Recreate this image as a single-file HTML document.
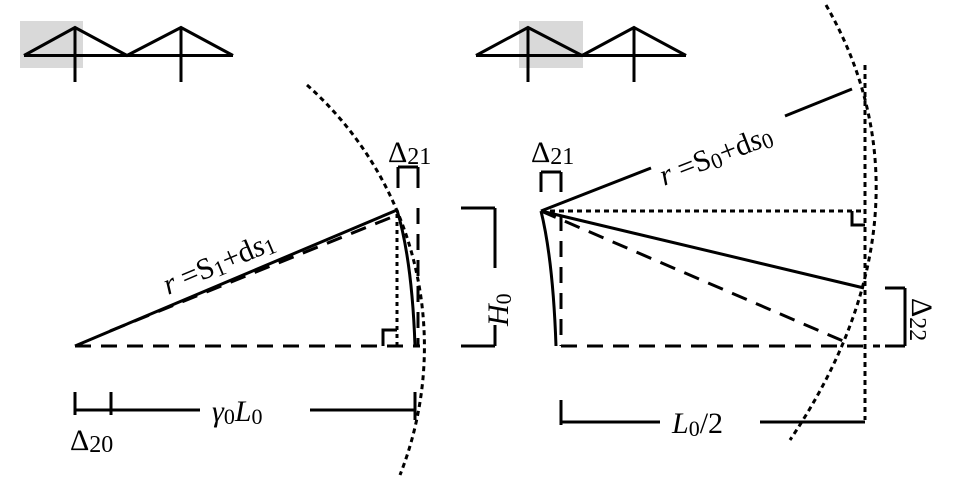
<!DOCTYPE html>
<html><head><meta charset="utf-8"><style>
html,body{margin:0;padding:0;background:#fff;}
svg{display:block;}
text{font-family:"Liberation Serif",serif;font-size:30px;fill:#000;}
</style></head><body>
<svg width="970" height="495" viewBox="0 0 970 495" xmlns="http://www.w3.org/2000/svg">
<g stroke="#000" stroke-width="3" fill="none" stroke-linecap="butt">
<!-- icons -->
<rect x="20" y="21" width="63" height="47" fill="#d9d9d9" stroke="none"/>
<polyline points="24,55.5 75,27.5 127,55.5 181,27.5 233,55.5"/>
<line x1="24" y1="55.5" x2="233" y2="55.5"/>
<line x1="75" y1="27.5" x2="75" y2="82"/>
<line x1="181" y1="27.5" x2="181" y2="82"/>
<rect x="519" y="21" width="64" height="47" fill="#d9d9d9" stroke="none"/>
<polyline points="476,55.5 528,27.5 582,55.5 634,27.5 686,55.5"/>
<line x1="476" y1="55.5" x2="686" y2="55.5"/>
<line x1="528" y1="27.5" x2="528" y2="82"/>
<line x1="634" y1="27.5" x2="634" y2="82"/>

<!-- left diagram -->
<line x1="75" y1="346" x2="397" y2="210"/>
<line x1="75" y1="346" x2="420" y2="346" stroke-dasharray="16,10"/>
<line x1="110" y1="331" x2="397" y2="215" stroke-dasharray="16,10"/>
<line x1="397" y1="214" x2="397" y2="346" stroke-dasharray="4,4"/>
<polyline points="383,346 383,330 397,330"/>
<path d="M397,210 Q412,260 415,346"/>
<line x1="418" y1="208" x2="418" y2="346" stroke-dasharray="16,10"/>
<path d="M307,85 A350,350 0 0 1 400,475" stroke-dasharray="5,4"/>
<line x1="398" y1="167" x2="418" y2="167"/>
<line x1="398" y1="167" x2="398" y2="188"/>
<line x1="418" y1="167" x2="418" y2="188"/>
<line x1="461" y1="208" x2="495" y2="208"/>
<line x1="461" y1="346" x2="495" y2="346"/>
<line x1="495" y1="208" x2="495" y2="268"/>
<line x1="495" y1="325" x2="495" y2="346"/>
<line x1="75" y1="392" x2="75" y2="415"/>
<line x1="111" y1="392" x2="111" y2="415"/>
<line x1="415" y1="392" x2="415" y2="420"/>
<line x1="75" y1="410" x2="200" y2="410"/>
<line x1="310" y1="410" x2="415" y2="410"/>

<!-- right diagram -->
<path d="M541,211 Q553,260 556,346"/>
<line x1="561" y1="215" x2="561" y2="346" stroke-dasharray="16,10"/>
<line x1="561" y1="346" x2="880" y2="346" stroke-dasharray="16,10"/>
<line x1="541" y1="211" x2="865" y2="211" stroke-dasharray="5,4"/>
<polyline points="852,211 852,225 865,225"/>
<line x1="865" y1="65" x2="865" y2="420" stroke-dasharray="5,4"/>
<line x1="541" y1="211" x2="864" y2="288"/>
<line x1="541" y1="211" x2="850" y2="344" stroke-dasharray="16,10"/>
<line x1="541" y1="211" x2="651" y2="168"/>
<line x1="785" y1="116" x2="852" y2="89"/>
<path d="M826,5 C898,130 898,280 790,440" stroke-dasharray="5,4"/>
<line x1="541" y1="172" x2="561" y2="172"/>
<line x1="541" y1="172" x2="541" y2="192"/>
<line x1="561" y1="172" x2="561" y2="192"/>
<line x1="885" y1="288" x2="905" y2="288"/>
<line x1="885" y1="346" x2="905" y2="346"/>
<line x1="905" y1="288" x2="905" y2="346"/>
<line x1="561" y1="400" x2="561" y2="425"/>
<line x1="561" y1="422" x2="660" y2="422"/>
<line x1="760" y1="422" x2="865" y2="422"/>
</g>

<text x="388" y="162">Δ<tspan font-size="24" dy="2">21</tspan></text>
<text x="531" y="162">Δ<tspan font-size="24" dy="2">21</tspan></text>
<text x="70" y="450">Δ<tspan font-size="24" dy="2">20</tspan></text>
<text x="212" y="421"><tspan font-style="italic">γ</tspan><tspan font-size="22" dy="3">0</tspan><tspan dy="-3" font-style="italic">L</tspan><tspan font-size="22" dy="3">0</tspan></text>
<text x="672" y="433"><tspan font-style="italic">L</tspan><tspan font-size="22" dy="3">0</tspan><tspan dy="-3">/2</tspan></text>
<text transform="translate(508,326) rotate(-90)"><tspan font-style="italic">H</tspan><tspan font-size="22" dy="3">0</tspan></text>
<text transform="translate(912,298) rotate(90)">Δ<tspan font-size="24" dy="2">22</tspan></text>
<text transform="translate(168,295) rotate(-23)"><tspan font-style="italic">r</tspan> =S<tspan font-size="22" dy="3">1</tspan><tspan dy="-3">+d</tspan><tspan font-style="italic">s</tspan><tspan font-size="22" dy="3">1</tspan></text>
<text transform="translate(664,186) rotate(-21.3)"><tspan font-style="italic">r</tspan> =S<tspan font-size="22" dy="3">0</tspan><tspan dy="-3">+d</tspan><tspan font-style="italic">s</tspan><tspan font-size="22" dy="3">0</tspan></text>
</svg>
</body></html>
